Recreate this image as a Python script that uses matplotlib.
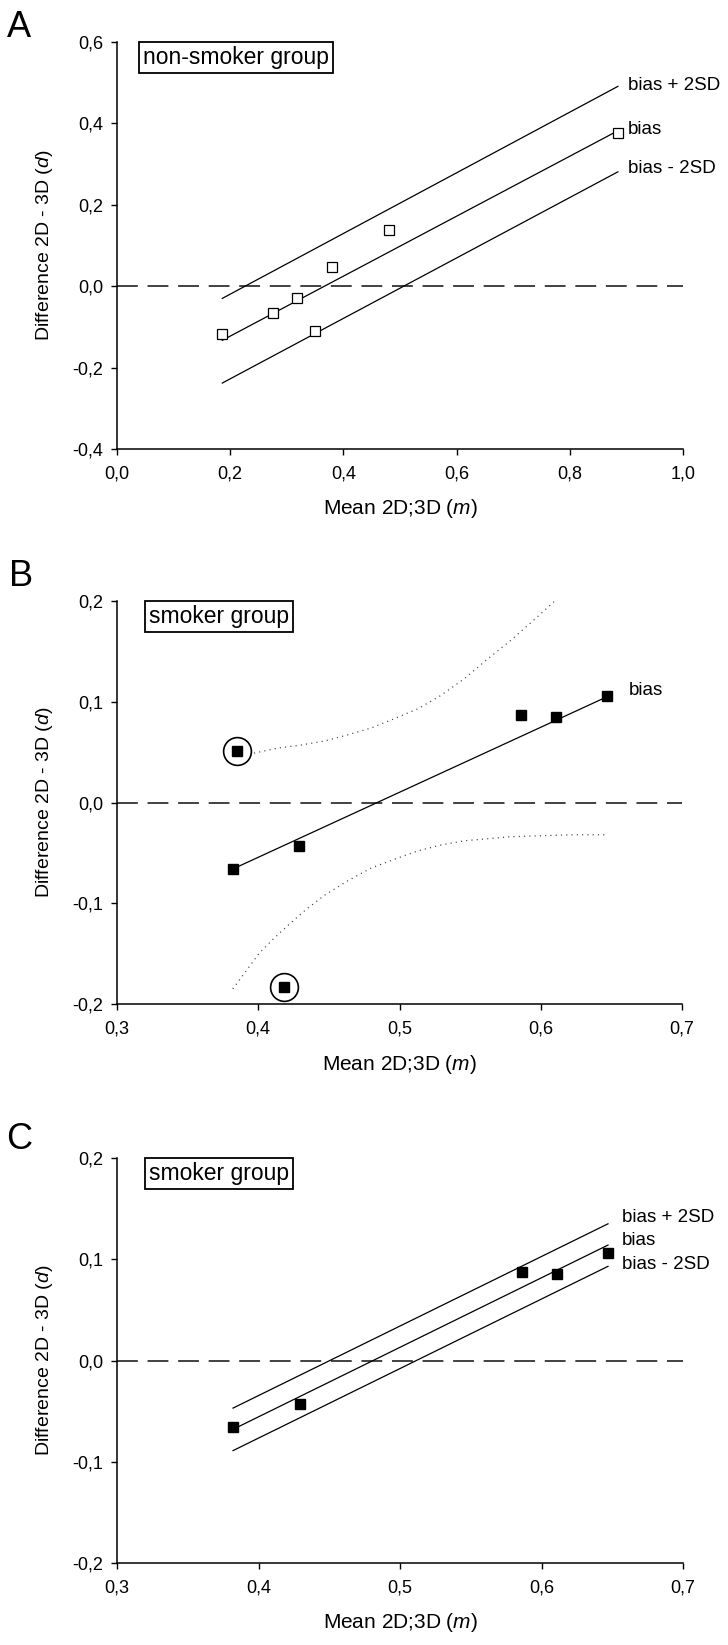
import matplotlib
matplotlib.use('Agg')
import matplotlib.pyplot as plt
import numpy as np

plt.rcParams['font.family'] = ['Liberation Sans', 'DejaVu Sans']
plt.rcParams['mathtext.fontset'] = 'custom'
plt.rcParams['mathtext.rm'] = 'Liberation Sans'
plt.rcParams['mathtext.it'] = 'Liberation Sans:italic'
plt.rcParams['lines.scale_dashes'] = False

# panel A : non-smokers
ns_mean = [0.186, 0.276, 0.318, 0.350, 0.379, 0.481, 0.885]
ns_diff = [-0.117, -0.065, -0.030, -0.110, 0.046, 0.138, 0.376]
ns_line_x = [0.186, 0.885]
ns_bias = [-0.133, 0.382]
ns_upper = [-0.030, 0.491]
ns_lower = [-0.238, 0.281]

# panels B/C : smokers (index 1 and 2 = circled outliers)
sm_mean = [0.382, 0.385, 0.418, 0.429, 0.586, 0.611, 0.647]
sm_diff = [-0.066, 0.051, -0.183, -0.043, 0.087, 0.085, 0.106]
outliers = [1, 2]
sm_line_x = [0.382, 0.647]
sm_bias_all = [-0.066, 0.105]

# dotted curves in panel B
ci_up_x = [0.397, 0.414, 0.430, 0.447, 0.463, 0.480, 0.496, 0.513, 0.529,
           0.546, 0.562, 0.578, 0.595, 0.610]
ci_up_y = [0.049, 0.054, 0.057, 0.061, 0.067, 0.074, 0.083, 0.093, 0.106,
           0.123, 0.142, 0.160, 0.181, 0.200]
ci_lo_x = [0.382, 0.392, 0.401, 0.411, 0.421, 0.434, 0.447, 0.463, 0.480,
           0.497, 0.513, 0.530, 0.546, 0.562, 0.578, 0.600, 0.623, 0.646]
ci_lo_y = [-0.185, -0.166, -0.149, -0.135, -0.122, -0.106, -0.092, -0.078, -0.065,
           -0.056, -0.048, -0.042, -0.038, -0.036, -0.034, -0.033, -0.032, -0.032]

# panel C : without outliers
c_bias = [-0.068, 0.114]
c_upper = [-0.047, 0.135]
c_lower = [-0.089, 0.093]

xticks_A = [0.0, 0.2, 0.4, 0.6, 0.8, 1.0]
yticks_A = [-0.4, -0.2, 0.0, 0.2, 0.4, 0.6]
xticks_BC = [0.3, 0.4, 0.5, 0.6, 0.7]
yticks_BC = [-0.2, -0.1, 0.0, 0.1, 0.2]


def fmt(v):
    return f"{v:.1f}".replace('.', ',')


def style_axes(ax, xt, yt, group, xoff):
    for s in ['top', 'right']:
        ax.spines[s].set_visible(False)
    for s in ['left', 'bottom']:
        ax.spines[s].set_linewidth(1.1)
    ax.set_xlim(xt[0], xt[-1])
    ax.set_ylim(yt[0], yt[-1])
    ax.set_xticks(xt)
    ax.set_xticklabels([fmt(v) for v in xt])
    ax.set_yticks(yt)
    ax.set_yticklabels([fmt(v) for v in yt])
    ax.tick_params(axis='both', direction='out', length=4, width=1.0, labelsize=13)
    ax.tick_params(axis='x', pad=8)
    ax.tick_params(axis='y', pad=6)
    ax.set_xlabel('Mean 2D;3D ($m$)', fontsize=15, va='center')
    ax.set_ylabel('Difference 2D - 3D ($d$)', fontsize=14, va='center')
    h = ax.get_position().height * 1645
    w = ax.get_position().width * 728
    ax.xaxis.set_label_coords(0.5, -60 / h)
    ax.yaxis.set_label_coords(-73 / w, 0.5)
    ax.axhline(0, color='#333333', lw=1.3, dashes=(15, 7), zorder=1)
    ax.text(xoff, 0.99, group, transform=ax.transAxes, ha='left', va='top', fontsize=16.5,
            bbox=dict(boxstyle='square,pad=0.18', fc='white', ec='black', lw=1.3))


fig = plt.figure(figsize=(7.28, 16.45), dpi=100)
axA = fig.add_axes([117 / 728, 1 - 449 / 1645, 566 / 728, 407 / 1645])
axB = fig.add_axes([117 / 728, 1 - 1004 / 1645, 565 / 728, 403 / 1645])
axC = fig.add_axes([117 / 728, 1 - 1563 / 1645, 566 / 728, 405 / 1645])

# A
style_axes(axA, xticks_A, yticks_A, 'non-smoker group', 0.046)
for yy in [ns_upper, ns_bias, ns_lower]:
    axA.plot(ns_line_x, yy, color='black', lw=0.9)
axA.plot(ns_mean, ns_diff, 's', ms=6.5, mfc='white', mec='black', mew=0.9, ls='none', zorder=3)
axA.text(0.902, 0.494, 'bias + 2SD', fontsize=13.5, va='center')
axA.text(0.903, 0.385, 'bias', fontsize=13.5, va='center')
axA.text(0.903, 0.290, 'bias - 2SD', fontsize=13.5, va='center')

# B
style_axes(axB, xticks_BC, yticks_BC, 'smoker group', 0.056)
axB.plot(sm_line_x, sm_bias_all, color='black', lw=0.9)
axB.plot(ci_up_x, ci_up_y, color='#444444', lw=0.9, dashes=(0.8, 3.0))
axB.plot(ci_lo_x, ci_lo_y, color='#444444', lw=0.9, dashes=(0.8, 3.0))
axB.plot(sm_mean, sm_diff, 's', ms=7, color='black', ls='none', zorder=3)
axB.plot([sm_mean[i] for i in outliers], [sm_diff[i] for i in outliers], 'o', ms=20,
         mfc='none', mec='black', mew=1.2, ls='none', zorder=3)
axB.text(0.662, 0.111, 'bias', fontsize=13.5, va='center')

# C
style_axes(axC, xticks_BC, yticks_BC, 'smoker group', 0.056)
for yy in [c_upper, c_bias, c_lower]:
    axC.plot(sm_line_x, yy, color='black', lw=0.9)
keep = [i for i in range(len(sm_mean)) if i not in outliers]
axC.plot([sm_mean[i] for i in keep], [sm_diff[i] for i in keep], 's', ms=7, color='black',
         ls='none', zorder=3)
axC.text(0.657, 0.141, 'bias + 2SD', fontsize=13.5, va='center')
axC.text(0.657, 0.119, 'bias', fontsize=13.5, va='center')
axC.text(0.657, 0.095, 'bias - 2SD', fontsize=13.5, va='center')

# panel letters
fig.text(7 / 728, 1 - 10 / 1645, 'A', fontsize=26, ha='left', va='top')
fig.text(9 / 728, 1 - 559 / 1645, 'B', fontsize=26, ha='left', va='top')
fig.text(6 / 728, 1 - 1122 / 1645, 'C', fontsize=26, ha='left', va='top')

fig.savefig('out.png', dpi=100)
